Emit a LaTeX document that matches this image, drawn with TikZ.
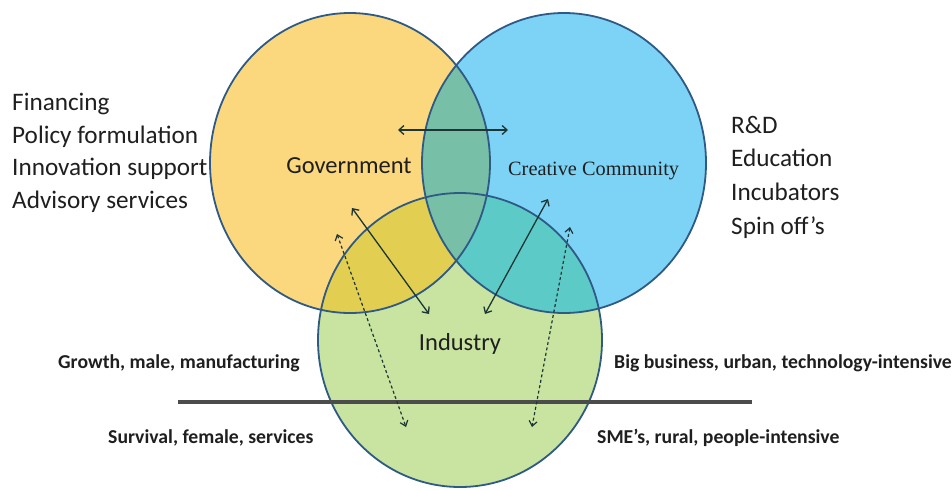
\documentclass[tikz,border=0pt]{standalone}
\usepackage{fontspec}
\setmainfont{Carlito}
\newfontfamily\seriffont{Liberation Serif}
\usetikzlibrary{arrows.meta}
\definecolor{govc}{HTML}{FBD87E}
\definecolor{ccc}{HTML}{7DD3F5}
\definecolor{indc}{HTML}{C8E4A0}
\definecolor{gcc}{HTML}{78BFA7}
\definecolor{gic}{HTML}{E2CE50}
\definecolor{cic}{HTML}{5CCBC8}
\definecolor{edgec}{HTML}{2E5A85}
\definecolor{arrc}{HTML}{1E3535}
\definecolor{txtc}{HTML}{1F1F1F}
\tikzset{
  listtext/.style={anchor=base west,inner sep=0pt,text=txtc,font=\fontsize{25.2}{28}\selectfont},
  boldlabel/.style={anchor=base west,inner sep=0pt,text=txtc,font=\fontsize{19.7}{22}\selectfont\bfseries},
  centertext/.style={anchor=base,inner sep=0pt,text=txtc,font=\fontsize{24.5}{28}\selectfont},
  solidarrow/.style={draw=arrc,line width=1.3pt,{Straight Barb[length=5pt,width=9pt]}-{Straight Barb[length=5pt,width=9pt]}},
  dasharrow/.style={draw=arrc,line width=1.2pt,dash pattern=on 3pt off 2.5pt,{Straight Barb[length=5pt,width=8pt]}-{Straight Barb[length=5pt,width=8pt]}},
  rim/.style={draw=edgec,line width=1.8pt}
}
\begin{document}
\begin{tikzpicture}[x=1pt,y=-1pt]
\useasboundingbox (0,0) rectangle (952,490);
\fill[white] (0,0) rectangle (952,490);
% base fills
\fill[govc] (350,163) ellipse [x radius=140, y radius=150];
\fill[ccc] (564,163) ellipse [x radius=142, y radius=150];
\fill[indc] (460,340) ellipse [x radius=142, y radius=147];
% overlaps
\begin{scope}
  \clip (350,163) ellipse [x radius=140, y radius=150];
  \fill[gic] (460,340) ellipse [x radius=142, y radius=147];
\end{scope}
\begin{scope}
  \clip (564,163) ellipse [x radius=142, y radius=150];
  \fill[cic] (460,340) ellipse [x radius=142, y radius=147];
\end{scope}
\begin{scope}
  \clip (350,163) ellipse [x radius=140, y radius=150];
  \fill[gcc] (564,163) ellipse [x radius=142, y radius=150];
\end{scope}
% outlines
\draw[rim] (350,163) ellipse [x radius=140, y radius=150];
\draw[rim] (564,163) ellipse [x radius=142, y radius=150];
\draw[rim] (460,340) ellipse [x radius=142, y radius=147];
% divider
\draw[line width=4.5pt,color=black!70] (178,402) -- (752,402);
% circle labels
\node[centertext] (govt) at (349,173) {Government};
\node[anchor=base west,inner sep=0pt,text=txtc,font=\seriffont\fontsize{20.3}{24}\selectfont] (cct) at (508,175) {Creative Community};
\node[centertext] (indt) at (460,350) {Industry};
% left list
\node[listtext] (l1) at (12,110) {Financing};
\node[listtext] (l2) at (12,143) {Policy formulation};
\node[listtext] (l3) at (12,175) {Innovation support};
\node[listtext] (l4) at (12,208) {Advisory services};
% right list
\node[listtext] (r1) at (731,133) {R\&D};
\node[listtext] (r2) at (731,166) {Education};
\node[listtext] (r3) at (731,200) {Incubators};
\node[listtext] (r4) at (731,234) {Spin off’s};
% bottom labels
\node[boldlabel] (b1) at (58,368) {Growth, male, manufacturing};
\node[boldlabel] (b2) at (614,368) {Big business, urban, technology-intensive};
\node[boldlabel] (b3) at (108,443) {Survival, female, services};
\node[boldlabel] (b4) at (597,443) {SME’s, rural, people-intensive};
% arrows
\coordinate (a1s) at (398,130); \coordinate (a1e) at (508,130);
\coordinate (a2s) at (352,208); \coordinate (a2e) at (429,314);
\coordinate (a3s) at (548,199); \coordinate (a3e) at (485,314);
\coordinate (d1s) at (337,234); \coordinate (d1e) at (406,427);
\coordinate (d2s) at (570,227); \coordinate (d2e) at (532,427);
\draw[solidarrow] (a1s) -- (a1e);
\draw[solidarrow] (a2s) -- (a2e);
\draw[solidarrow] (a3s) -- (a3e);
\draw[dasharrow] (d1s) -- (d1e);
\draw[dasharrow] (d2s) -- (d2e);
\end{tikzpicture}
\end{document}
